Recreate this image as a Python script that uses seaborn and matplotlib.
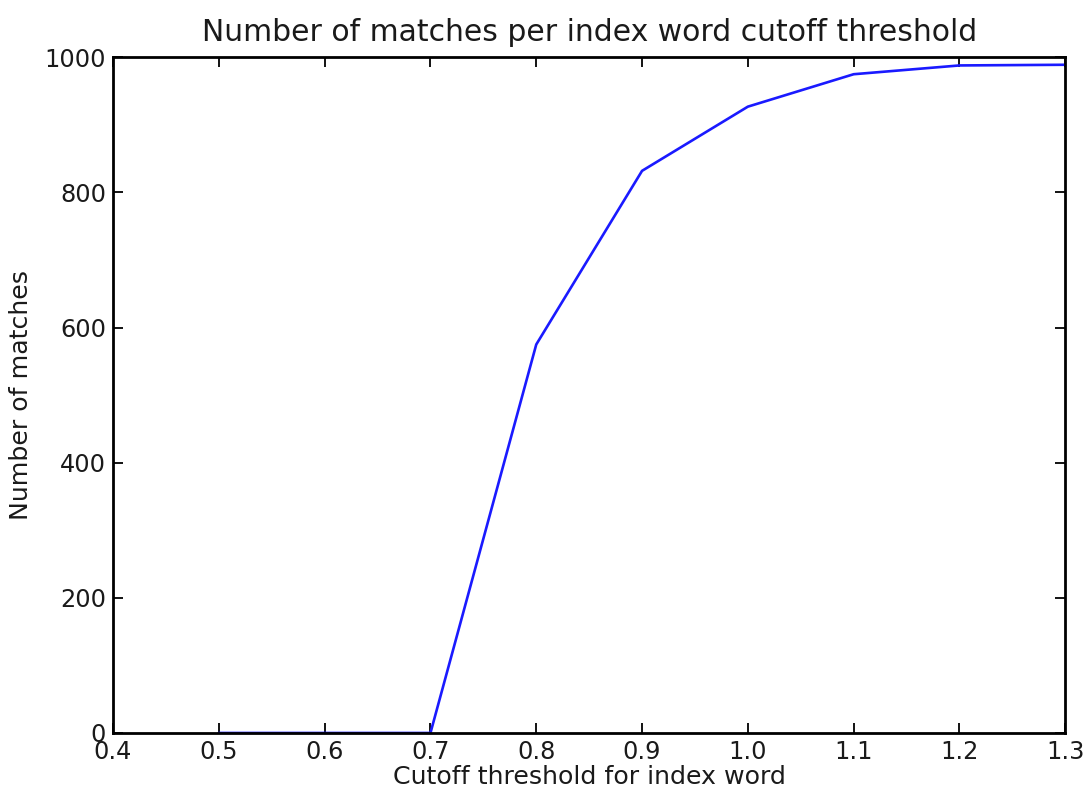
import matplotlib
matplotlib.use("Agg")
import matplotlib.pyplot as plt
import seaborn as sns
import pandas as pd

thresholds = [0.5, 0.6, 0.7, 0.8, 0.9, 1.0, 1.1, 1.2, 1.3]
matches = [0, 0, 0, 575, 832, 927, 975, 988, 989]
x_ticks = [0.4, 0.5, 0.6, 0.7, 0.8, 0.9, 1.0, 1.1, 1.2, 1.3]
y_ticks = [0, 200, 400, 600, 800, 1000]

sns.set_theme(style="white")
plt.rcParams['font.family'] = ['DejaVu Sans']

df = pd.DataFrame({"threshold": thresholds, "matches": matches})

fig = plt.figure(figsize=(10.87, 7.93), dpi=100)
ax = fig.add_axes([0.104, 0.0757, 0.876, 0.852])
sns.lineplot(data=df, x="threshold", y="matches", ax=ax, color="#1a1aff", linewidth=1.9)

ax.set_xlim(0.4, 1.3)
ax.set_ylim(0, 1000)
ax.set_xticks(x_ticks)
ax.set_xticklabels([f"{v:.1f}" for v in x_ticks])
ax.set_yticks(y_ticks)
ax.set_yticklabels([str(v) for v in y_ticks])
ax.tick_params(direction="in", length=7, width=1.3, colors="black", labelsize=17.3,
               top=True, right=True, bottom=True, left=True, pad=5)
for lab in ax.get_xticklabels() + ax.get_yticklabels():
    lab.set_color("#1a1a1a")
for s in ax.spines.values():
    s.set_visible(True)
    s.set_color("black")
    s.set_linewidth(2.0)
ax.set_xlabel("Cutoff threshold for index word", fontsize=18.2, color="#1a1a1a", labelpad=1)
ax.set_ylabel("Number of matches", fontsize=18.2, color="#1a1a1a", labelpad=8)
ax.set_title("Number of matches per index word cutoff threshold", fontsize=21.5, color="#1a1a1a", pad=12)
ax.grid(False)

fig.savefig("out.png", dpi=100)
